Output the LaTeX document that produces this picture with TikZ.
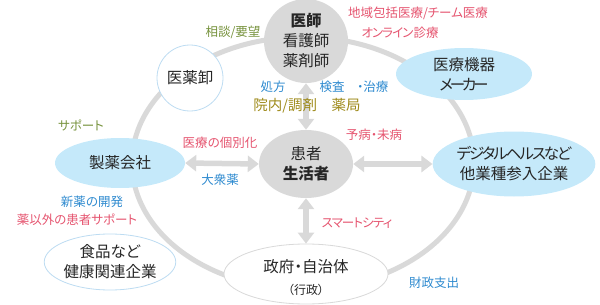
\documentclass[tikz,border=0pt]{standalone}
\usepackage{fontspec}
\setmainfont[RawFeature=+palt]{Noto Sans CJK JP}
\usetikzlibrary{shapes.geometric,arrows.meta}
\definecolor{ringgray}{HTML}{D9D9D9}
\definecolor{nodegray}{HTML}{D9D9D9}
\definecolor{lblue}{HTML}{C5E9FA}
\definecolor{bblue}{HTML}{BDDCF2}
\definecolor{cpink}{HTML}{E5546F}
\definecolor{cblue}{HTML}{2E8ACF}
\definecolor{cgreen}{HTML}{76923C}
\definecolor{cyellow}{HTML}{9E8A1A}
\newcommand{\tightA}[1]{{\addfontfeature{LetterSpace=-13}#1}}
\newcommand{\tightB}[1]{{\addfontfeature{LetterSpace=-20}#1}}
\newcommand{\tightC}[1]{{\addfontfeature{LetterSpace=-7}#1}}
\begin{document}
\begin{tikzpicture}[x=1pt,y=-1pt,
  main/.style={font=\fontsize{15.5}{20}\selectfont, align=center, inner sep=0pt, text=black!85},
  ell/.style={main, ellipse, minimum width=#1},
  lbl/.style={font=\fontsize{12.5}{14}\selectfont, inner sep=0pt},
  dbl/.style={draw=ringgray, line width=5.5pt, {Triangle[width=16pt,length=11pt]}-{Triangle[width=16pt,length=11pt]}}
]
\useasboundingbox (0,0) rectangle (600,305);
% ring
\draw[ringgray, line width=5pt] (303,163) ellipse [x radius=171pt, y radius=126pt];
% nodes
\node[main, circle, fill=nodegray, minimum size=84pt] (doc) at (306,41)
  {\textbf{医師}\\看護師\\薬剤師};
\node[main, circle, fill=white, draw=bblue, line width=0.8pt, minimum size=66pt] (oros) at (190,78) {医薬卸};
\node[ell=136pt, fill=lblue, minimum height=52pt] (kiki) at (464,74) {医療機器\\\tightB{メーカー}};
\node[ell=130pt, fill=lblue, minimum height=50pt] (seiyaku) at (120,163) {製薬会社};
\node[ell=94pt, fill=nodegray, minimum height=68pt] (pat) at (306,164) {患者\\\textbf{生活者}};
\node[ell=158pt, fill=lblue, minimum height=65pt] (digital) at (514,164) {\tightA{デジタルヘルスなど}\\他業種参入企業};
\node[ell=130pt, fill=white, draw=bblue, line width=0.8pt, minimum height=56pt] (food) at (110,262) {食品など\\健康関連企業};
\node[ell=164pt, fill=white, draw=ringgray, line width=0.8pt, minimum height=60pt] (gov) at (306,274) {};
\node[main] (govt) at (306,267) {政府・自治体};
\node[main, font=\fontsize{12}{14}\selectfont] (govs) at (306,290) {（行政）};
% arrows
\draw[dbl] (seiyaku.east) -- (pat.west);
\draw[dbl] (pat.east) -- (digital.west);
\draw[dbl] (doc.south) -- (pat.north);
\draw[dbl] (pat.south) -- (gov.north);
% labels
\node[lbl, text=cgreen] (l1) at (233,32) {相談/要望};
\node[lbl, text=cpink] (l2) at (418,13) {地域包括医療/チーム医療};
\node[lbl, text=cpink] (l3) at (400,33) {\tightC{オンライン}診療};
\node[lbl, text=cblue] (l4) at (273,87) {処方};
\node[lbl, text=cblue] (l5) at (354,87) {検査　・治療};
\node[lbl, text=cyellow, font=\fontsize{14.5}{16}\selectfont] (l6) at (307,106) {院内/調剤　薬局};
\node[lbl, text=cgreen] (l7) at (81,125) {サポート};
\node[lbl, text=cpink] (l8) at (220,143) {医療の個別化};
\node[lbl, text=cblue] (l9) at (220,180) {大衆薬};
\node[lbl, text=cblue] (l10) at (92,202) {新薬の開発};
\node[lbl, text=cpink] (l11) at (77,220) {薬以外の患者サポート};
\node[lbl, text=cpink] (l12) at (374,135) {予病・未病};
\node[lbl, text=cpink] (l13) at (357,223) {\tightC{スマートシティ}};
\node[lbl, text=cblue] (l14) at (434,283) {財政支出};
\end{tikzpicture}
\end{document}
